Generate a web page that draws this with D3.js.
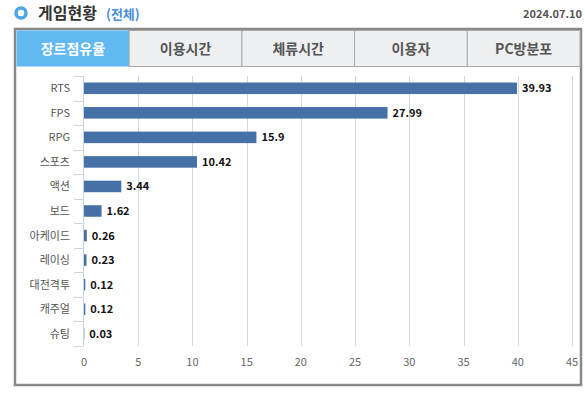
<!DOCTYPE html>
<html>
<head>
<meta charset="utf-8">
<script src="https://cdn.jsdelivr.net/npm/d3@7"></script>
<style>
  body { margin: 0; background: #fff; }
  svg { display: block; font-family: "Noto Sans CJK KR", "Noto Sans", sans-serif; }
</style>
</head>
<body>
<div id="chart"></div>
<script>
// data
const categories = ["RTS", "FPS", "RPG", "스포츠", "액션", "보드", "아케이드", "레이싱", "대전격투", "캐주얼", "슈팅"]
const shares = [39.93, 27.99, 15.9, 10.42, 3.44, 1.62, 0.26, 0.23, 0.12, 0.12, 0.03]
const tabs = ["장르점유율", "이용시간", "체류시간", "이용자", "PC방분포"]
const xTicks = [0, 5, 10, 15, 20, 25, 30, 35, 40, 45]

const W = 585, H = 393

const svg = d3.select("#chart").append("svg")
  .attr("width", W)
  .attr("height", H)

// header
svg.append("circle").attr("cx", 21).attr("cy", 13).attr("r", 5)
  .attr("fill", "#fff").attr("stroke", "#4da6e3").attr("stroke-width", 3.5)
svg.append("text").attr("x", 38).attr("y", 19)
  .attr("font-size", 16).attr("font-weight", "bold").attr("fill", "#333")
  .text("게임현황")
svg.append("text").attr("x", 106).attr("y", 19)
  .attr("font-size", 13).attr("font-weight", "bold").attr("fill", "#4a8fd8")
  .text("(전체)")
svg.append("text").attr("x", 582).attr("y", 18).attr("text-anchor", "end")
  .attr("font-size", 11).attr("font-weight", "bold").attr("fill", "#555")
  .text("2024.07.10")

// box
svg.append("rect").attr("x", 15).attr("y", 29).attr("width", 566).attr("height", 356)
  .attr("fill", "#fff").attr("stroke", "#888").attr("stroke-width", 2.5)

// tabs
const tabX = d3.scaleBand().domain(tabs).range([16.5, 580]).padding(0)
const tab = svg.append("g").selectAll("g").data(tabs).enter().append("g")
  .attr("transform", d => `translate(${tabX(d)},30.5)`)
tab.append("rect")
  .attr("width", tabX.bandwidth()).attr("height", 36)
  .attr("fill", (d, i) => i === 0 ? "#62b9f2" : "#eeeff1")
  .attr("stroke", (d, i) => i === 0 ? "none" : "#aaa").attr("stroke-width", 1)
tab.append("text")
  .attr("x", tabX.bandwidth() / 2).attr("y", 23)
  .attr("text-anchor", "middle").attr("font-size", 14).attr("font-weight", "bold")
  .attr("fill", (d, i) => i === 0 ? "#fff" : "#555")
  .text(d => d)

// chart
const x = d3.scaleLinear().domain([0, 45]).range([84, 572])
const y = d3.scaleBand().domain(categories).range([76, 346]).paddingInner(0.53).paddingOuter(0.265)
const step = y.step()

const g = svg.append("g")

// grid
g.selectAll(".grid").data(xTicks.slice(1)).enter().append("line")
  .attr("x1", d => Math.round(x(d)) + 0.5).attr("x2", d => Math.round(x(d)) + 0.5)
  .attr("y1", 76).attr("y2", 346)
  .attr("stroke", "#d8d8d8")

// left axis with category boundary ticks
g.append("line").attr("x1", 83.5).attr("x2", 83.5).attr("y1", 76).attr("y2", 346)
  .attr("stroke", "#c8d3e3")
g.selectAll(".ytick").data(d3.range(categories.length + 1)).enter().append("line")
  .attr("x1", 74).attr("x2", 83.5)
  .attr("y1", i => Math.round(76 + i * step) + 0.5).attr("y2", i => Math.round(76 + i * step) + 0.5)
  .attr("stroke", "#c8d3e3")

// bars
g.selectAll(".bar").data(categories).enter().append("rect")
  .attr("x", x(0))
  .attr("y", d => y(d))
  .attr("width", (d, i) => x(shares[i]) - x(0))
  .attr("height", y.bandwidth())
  .attr("fill", "#4671a6")

// value labels
g.selectAll(".val").data(categories).enter().append("text")
  .attr("x", (d, i) => x(shares[i]) + 5)
  .attr("y", d => y(d) + y.bandwidth() / 2 + 4)
  .attr("font-size", 11).attr("font-weight", "bold").attr("fill", "#111")
  .text((d, i) => shares[i])

// category labels
g.selectAll(".cat").data(categories).enter().append("text")
  .attr("x", 70)
  .attr("y", d => y(d) + y.bandwidth() / 2 + 4)
  .attr("text-anchor", "end").attr("font-size", 11).attr("fill", "#555")
  .text(d => d)

// x tick labels
g.selectAll(".xl").data(xTicks).enter().append("text")
  .attr("x", d => x(d))
  .attr("y", 366)
  .attr("text-anchor", "middle").attr("font-size", 11).attr("fill", "#666")
  .text(d => d)
</script>
</body>
</html>
